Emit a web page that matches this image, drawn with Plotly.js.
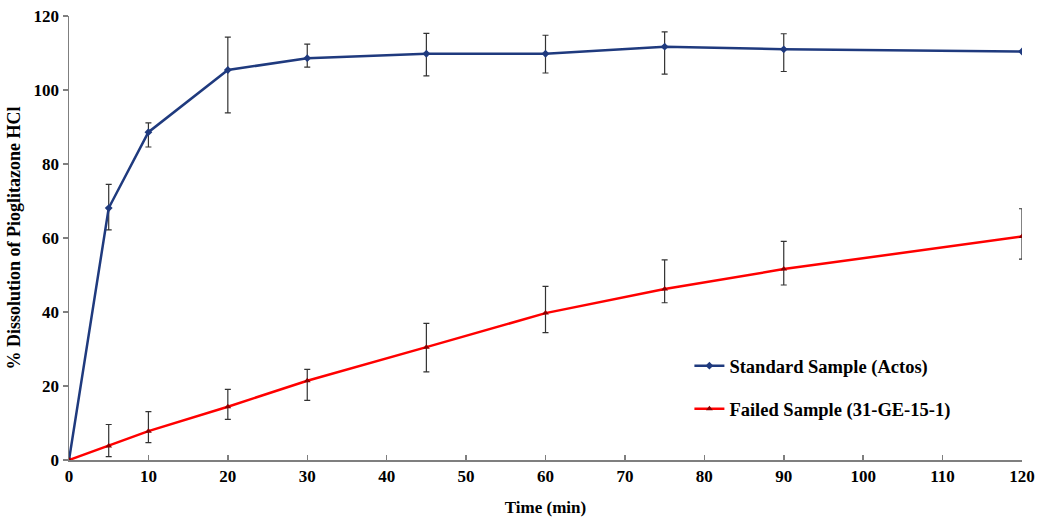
<!DOCTYPE html>
<html>
<head>
<meta charset="utf-8">
<script src="https://cdn.plot.ly/plotly-3.0.1.min.js"></script>
<style>html,body{margin:0;padding:0;background:#fff;}#chart{width:1039px;height:522px;}</style>
</head>
<body>
<div id="chart"></div>
<script>
const time = [0, 5, 10, 20, 30, 45, 60, 75, 90, 120];
const standardName = "Standard Sample (Actos)";
const standardValues = [0, 68.1, 88.6, 105.4, 108.6, 109.8, 109.8, 111.7, 111.0, 110.4];
const standardErrPlus = [0, 6.4, 2.5, 8.9, 3.8, 5.5, 5.0, 4.0, 4.2, 0];
const standardErrMinus = [0, 5.9, 4.0, 11.6, 2.4, 6.0, 5.2, 7.4, 6.0, 0];
const failedName = "Failed Sample (31-GE-15-1)";
const failedValues = [0, 3.8, 7.8, 14.4, 21.4, 30.5, 39.7, 46.2, 51.6, 60.4];
const failedErrPlus = [0, 5.8, 5.3, 4.7, 3.1, 6.4, 7.2, 7.9, 7.5, 7.5];
const failedErrMinus = [0, 2.9, 3.1, 3.4, 5.3, 6.7, 5.3, 3.7, 4.3, 6.1];
const xTicks = [0, 10, 20, 30, 40, 50, 60, 70, 80, 90, 100, 110, 120];
const yTicks = [0, 20, 40, 60, 80, 100, 120];

const font = "'Liberation Serif', 'Times New Roman', serif";

const traces = [
  {
    x: time, y: standardValues, name: standardName, type: "scatter", mode: "lines+markers",
    legendgroup: "a",
    line: {color: "#1f3a7e", width: 2.5},
    marker: {symbol: "diamond", size: 6, color: "#1f3a7e"},
    error_y: {type: "data", symmetric: false, array: standardErrPlus, arrayminus: standardErrMinus,
              color: "#333333", thickness: 1.2, width: 3}
  },
  {
    x: time, y: failedValues, name: failedName, type: "scatter", mode: "lines+markers",
    legendgroup: "b",
    line: {color: "#ff0000", width: 2.5},
    marker: {symbol: "triangle-up", size: 6, color: "#8b0000"},
    error_y: {type: "data", symmetric: false, array: failedErrPlus, arrayminus: failedErrMinus,
              color: "#333333", thickness: 1.2, width: 3}
  }
];

const layout = {
  width: 1039, height: 522,
  margin: {l: 69, r: 17, t: 16, b: 62},
  paper_bgcolor: "#ffffff", plot_bgcolor: "#ffffff",
  font: {family: font, size: 16, color: "#000000", weight: "bold"},
  showlegend: true,
  legend: {
    x: 0.651, y: 0.163, xanchor: "left", yanchor: "middle",
    traceorder: "grouped", tracegroupgap: 16,
    itemwidth: 30,
    font: {family: font, size: 18.5, color: "#000000", weight: "bold"},
    bgcolor: "rgba(0,0,0,0)"
  },
  xaxis: {
    range: [0, 120], tickvals: xTicks, ticktext: xTicks.map(String),
    showgrid: false, zeroline: false,
    showline: true, linecolor: "#7f7f7f", linewidth: 1.5,
    ticks: "inside", ticklen: 5, tickcolor: "#7f7f7f", tickwidth: 1.5,
    tickfont: {family: font, size: 17, color: "#000", weight: "bold"},
    title: {text: "Time (min)", font: {family: font, size: 17, color: "#000", weight: "bold"}, standoff: 16}
  },
  yaxis: {
    range: [0, 120], tickvals: yTicks, ticktext: yTicks.map(String),
    showgrid: false, zeroline: false,
    showline: true, linecolor: "#7f7f7f", linewidth: 1.5,
    ticks: "outside", ticklen: 5, tickcolor: "#7f7f7f", tickwidth: 1.5,
    tickfont: {family: font, size: 17, color: "#000", weight: "bold"},
    title: {text: "% Dissolution of Pioglitazone HCl", font: {family: font, size: 18, color: "#000", weight: "bold"}, standoff: 8}
  }
};

Plotly.newPlot("chart", traces, layout, {displayModeBar: false, staticPlot: true});
</script>
</body>
</html>
